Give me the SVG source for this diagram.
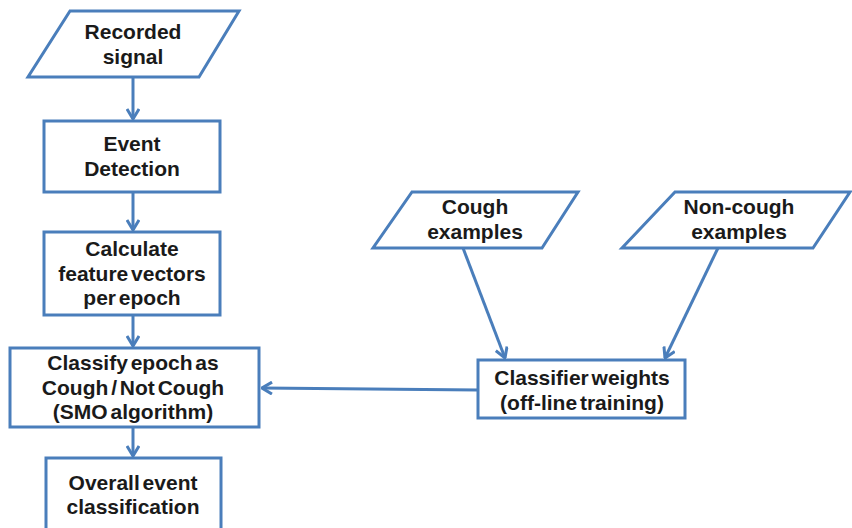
<svg xmlns="http://www.w3.org/2000/svg" width="852" height="528" viewBox="0 0 852 528">
<defs>
<style>
.s{fill:#fff;stroke:#4a7ebb;stroke-width:3}
.c{fill:none;stroke:#4a7ebb;stroke-width:3}
text{font-family:"Liberation Sans",Arial,sans-serif;font-weight:bold;font-size:21px;fill:#1a1a1a;text-anchor:middle;word-spacing:-3px}
</style>
<marker id="a" viewBox="0 0 12 14" refX="11" refY="7" markerWidth="12" markerHeight="14" markerUnits="userSpaceOnUse" orient="auto">
<polyline points="1,1 11,7 1,13" fill="none" stroke="#4a7ebb" stroke-width="3"/>
</marker>
</defs>
<rect width="852" height="528" fill="#fff"/>
<g id="connectors">
<line class="c" x1="133" y1="77" x2="133" y2="119" marker-end="url(#a)"/>
<line class="c" x1="133" y1="192" x2="133" y2="230" marker-end="url(#a)"/>
<line class="c" x1="133" y1="315" x2="133" y2="346" marker-end="url(#a)"/>
<line class="c" x1="133" y1="427" x2="133" y2="456" marker-end="url(#a)"/>
<polyline class="c" points="478,390 370,389 262,388" marker-end="url(#a)"/>
<line class="c" x1="463" y1="248" x2="505" y2="358" marker-end="url(#a)"/>
<line class="c" x1="718" y1="248" x2="665" y2="358" marker-end="url(#a)"/>
</g>
<g id="recorded">
<polygon class="s" points="70,11 239,11 199,77 28,77"/>
<text x="133" y="39">Recorded</text>
<text x="133" y="64">signal</text>
</g>
<g id="event">
<rect class="s" x="44" y="121" width="176" height="71"/>
<text x="132" y="151">Event</text>
<text x="132" y="176">Detection</text>
</g>
<g id="calculate">
<rect class="s" x="44" y="232" width="176" height="83"/>
<text x="132" y="256">Calculate</text>
<text x="132" y="281">feature vectors</text>
<text x="132" y="305">per epoch</text>
</g>
<g id="classify">
<rect class="s" x="10" y="348" width="249" height="79"/>
<text x="133" y="370">Classify epoch as</text>
<text x="133" y="395">Cough / Not Cough</text>
<text x="133" y="419">(SMO algorithm)</text>
</g>
<g id="overall">
<rect class="s" x="46" y="458" width="175" height="80"/>
<text x="133" y="490">Overall event</text>
<text x="133" y="514">classification</text>
</g>
<g id="cough">
<polygon class="s" points="412,192 578,192 542,248 373,248"/>
<text x="475" y="214">Cough</text>
<text x="475" y="239">examples</text>
</g>
<g id="noncough">
<polygon class="s" points="675,192 850,192 813,248 622,248"/>
<text x="739" y="214">Non-cough</text>
<text x="739" y="239">examples</text>
</g>
<g id="classifier">
<rect class="s" x="478" y="360" width="207" height="58"/>
<text x="582" y="385">Classifier weights</text>
<text x="582" y="410">(off-line training)</text>
</g>
</svg>
